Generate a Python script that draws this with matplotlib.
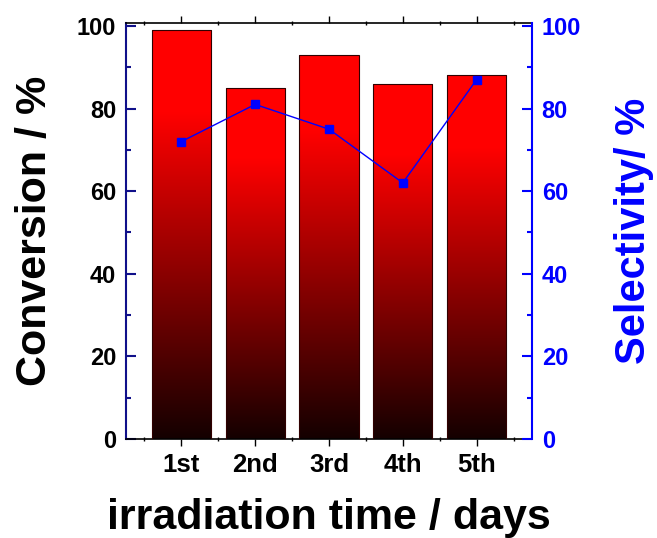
import numpy as np
import matplotlib
matplotlib.use('Agg')
import matplotlib.pyplot as plt
from matplotlib.colors import LinearSegmentedColormap
from matplotlib.ticker import MultipleLocator, FixedLocator

plt.rcParams['font.family'] = ['Liberation Sans', 'DejaVu Sans']
plt.rcParams['font.weight'] = 'bold'

days = ['1st', '2nd', '3rd', '4th', '5th']
conversion = [99, 85, 93, 86, 88]
selectivity = [72, 81, 75, 62, 87]

navy = '#10108a'
blue = '#0000ff'

fig = plt.figure(figsize=(6.57, 5.38), dpi=100)
ax = fig.add_axes([0.1918, 0.184, 0.6179, 0.7732])
x = np.arange(1, len(days) + 1)

# bars with red -> black gradient
bars = ax.bar(x, conversion, width=0.8, color='none', edgecolor='#300000', linewidth=0.8, zorder=3)
cmap = LinearSegmentedColormap.from_list('rb', [(0, (0.08, 0, 0)), (0.8, (1, 0, 0)), (1, (1, 0, 0))])
grad = np.linspace(0, 1, 256).reshape(-1, 1)
for b in bars:
    x0, y0 = b.get_x(), b.get_y()
    im = ax.imshow(grad, cmap=cmap, origin='lower', aspect='auto',
                   extent=(x0, x0 + b.get_width(), y0, y0 + b.get_height()), zorder=2)
    im.set_clip_path(b)

ax.set_xlim(0.25, 5.75)
ax.set_ylim(0, 100.7)
ax.set_xticks(x)
ax.set_xticklabels(days)
ax.xaxis.set_minor_locator(FixedLocator(np.arange(0.5, 6, 1.0)))
ax.yaxis.set_major_locator(MultipleLocator(20))
ax.yaxis.set_minor_locator(MultipleLocator(10))
ax.tick_params(axis='x', which='major', direction='out', length=5, width=1, labelsize=18.5, pad=5, top=True)
ax.tick_params(axis='x', which='minor', direction='inout', length=3, width=1, top=True)
ax.tick_params(axis='y', which='major', direction='in', length=7, width=1.5, color=navy, labelsize=17, pad=7)
ax.tick_params(axis='y', which='minor', direction='in', length=3.5, width=1.5, color=navy)
ax.spines['left'].set_color(navy)
ax.spines['left'].set_linewidth(1.5)
ax.spines['right'].set_visible(False)
for s in ['top', 'bottom']:
    ax.spines[s].set_linewidth(1.2)
ax.set_ylabel('Conversion / %', fontsize=31, fontweight='bold', labelpad=16)
ax.set_xlabel('irradiation time / days', fontsize=31, fontweight='bold', labelpad=15)

ax2 = ax.twinx()
ax2.plot(x, selectivity, color=blue, linewidth=1, marker='s', markersize=5.5)
ax2.set_ylim(0, 100.7)
ax2.yaxis.set_major_locator(MultipleLocator(20))
ax2.yaxis.set_minor_locator(MultipleLocator(10))
ax2.tick_params(axis='y', which='major', direction='in', length=7, width=1.5, color=blue,
                labelcolor=blue, labelsize=17, pad=7)
ax2.tick_params(axis='y', which='minor', direction='in', length=3.5, width=1.5, color=blue)
for s in ['left', 'top', 'bottom']:
    ax2.spines[s].set_visible(False)
ax2.spines['right'].set_color(blue)
ax2.spines['right'].set_linewidth(1.5)
ax2.set_ylabel('Selectivity/ %', fontsize=30, fontweight='bold', color=blue, labelpad=24)

fig.savefig('out.png', dpi=100)
